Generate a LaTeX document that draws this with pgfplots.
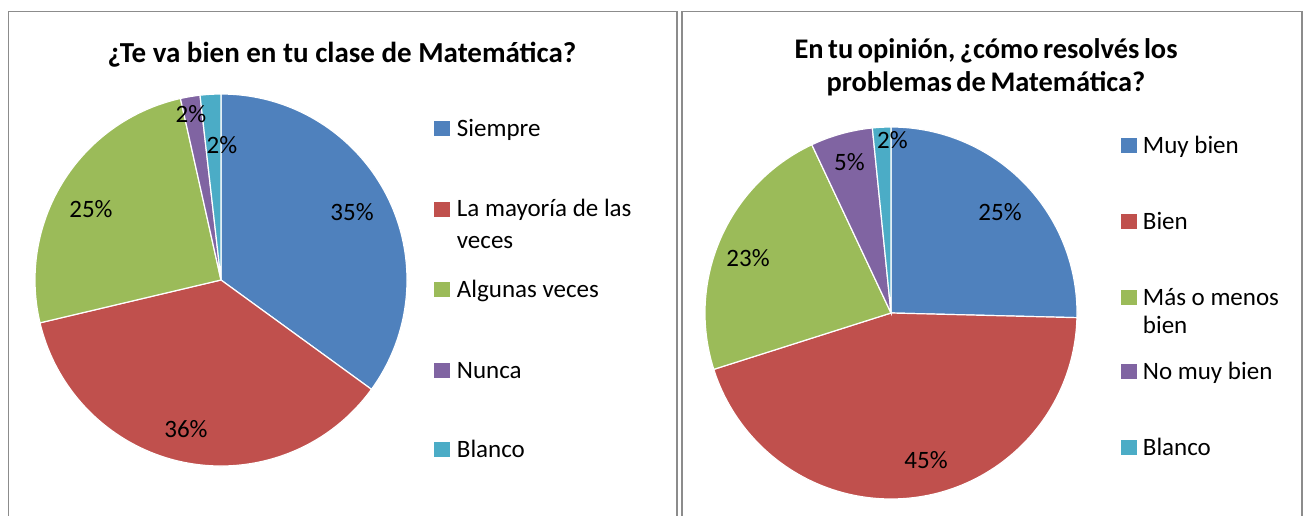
\documentclass[border=0pt]{standalone}
\usepackage{pgfplots}
\pgfplotsset{compat=1.18}
\usepackage{fontspec}
\setmainfont{Carlito}

\definecolor{pblue}{HTML}{4F81BD}
\definecolor{pred}{HTML}{C0504D}
\definecolor{pgreen}{HTML}{9BBB59}
\definecolor{ppurple}{HTML}{8064A2}
\definecolor{pcyan}{HTML}{4BACC6}
\definecolor{boxgray}{HTML}{8C8C8C}

\newcommand{\legfont}{\fontsize{12.5}{15}\selectfont}
\newcommand{\titfont}{\fontsize{14.5}{17}\selectfont\bfseries}
\newcommand{\titfontb}{\fontsize{14.2}{17}\selectfont\bfseries\spaceskip=0.16em}

% pie: centre x, centre y, radius, list of share/colour (clockwise from 12 o'clock)
\newcommand{\pie}[4]{%
  \gdef\pieacc{90}%
  \foreach \v/\c in {#4}{%
    \pgfmathsetmacro\pieend{\pieacc-3.6*\v}%
    \edef\doslice{\noexpand\fill[\c, draw=white, line width=0.6pt] (axis cs:#1,#2) -- ++(\pieacc:#3)
      arc[start angle=\pieacc, end angle=\pieend, radius=#3] -- cycle;}%
    \doslice
    \xdef\pieacc{\pieend}%
  }}
% legend item: square x, baseline y, text x, colour, text
\newcommand{\legitem}[5]{%
  \fill[#4] (axis cs:#1,#2) rectangle ++(8pt,7.5pt);
  \node[anchor=base west, inner sep=0pt, font=\legfont] at (axis cs:#3,#2) {#5};}
\newcommand{\pct}[3]{\node[anchor=base, inner sep=0pt, font=\legfont] at (axis cs:#1,#2) {#3};}

\begin{document}
\begin{tikzpicture}
\begin{axis}[x=0.5pt, y=0.5pt, xmin=0, xmax=1304, ymin=0, ymax=515,
  hide axis, scale only axis, anchor=south west, at={(0,0)}]
\coordinate (bl) at (axis cs:0,0);
\coordinate (tr) at (axis cs:1304,515);

% frames
\draw[boxgray, line width=0.8pt] (axis cs:8.5,-20) rectangle (axis cs:677,503.5);
\draw[boxgray, line width=0.8pt] (axis cs:682,-20) rectangle (axis cs:1302,503.5);

% left chart
\node[anchor=base, inner sep=0pt, font=\titfont] at (axis cs:342,452) {¿Te va bien en tu clase de Matemática?};
\pie{221}{235}{93pt}{35.0/pblue, 36.3/pred, 25.2/pgreen, 1.7/ppurple, 1.8/pcyan}
\pct{352}{294.5}{35\%}
\pct{186}{77.5}{36\%}
\pct{91}{297.5}{25\%}
\pct{191}{393}{2\%}
\pct{222}{362}{2\%}
\legitem{434}{379}{456.5}{pblue}{Siempre}
\legitem{434}{298.5}{456.5}{pred}{La mayoría de las}
\node[anchor=base west, inner sep=0pt, font=\legfont] at (axis cs:456.5,267) {veces};
\legitem{434}{218}{456.5}{pgreen}{Algunas veces}
\legitem{434}{137}{456.5}{ppurple}{Nunca}
\legitem{434}{58}{456.5}{pcyan}{Blanco}

% right chart
\node[anchor=base, inner sep=0pt, font=\titfontb] at (axis cs:986,456) {En tu opinión, ¿cómo resolvés los};
\node[anchor=base, inner sep=0pt, font=\titfontb] at (axis cs:986,423) {problemas de Matemática?};
\pie{891}{202}{93pt}{25.4/pblue, 44.7/pred, 22.9/pgreen, 5.4/ppurple, 1.6/pcyan}
\pct{1000}{294.5}{25\%}
\pct{926}{46.5}{45\%}
\pct{748}{248.5}{23\%}
\pct{849.5}{345}{5\%}
\pct{892.5}{366}{2\%}
\legitem{1121}{362}{1142.5}{pblue}{Muy bien}
\legitem{1121}{286}{1142.5}{pred}{Bien}
\legitem{1121}{210}{1142.5}{pgreen}{Más o menos}
\node[anchor=base west, inner sep=0pt, font=\legfont] at (axis cs:1142.5,182) {bien};
\legitem{1121}{136}{1142.5}{ppurple}{No muy bien}
\legitem{1121}{60}{1142.5}{pcyan}{Blanco}
\end{axis}
\pgfresetboundingbox
\path[use as bounding box] (bl) rectangle (tr);
\end{tikzpicture}
\end{document}
